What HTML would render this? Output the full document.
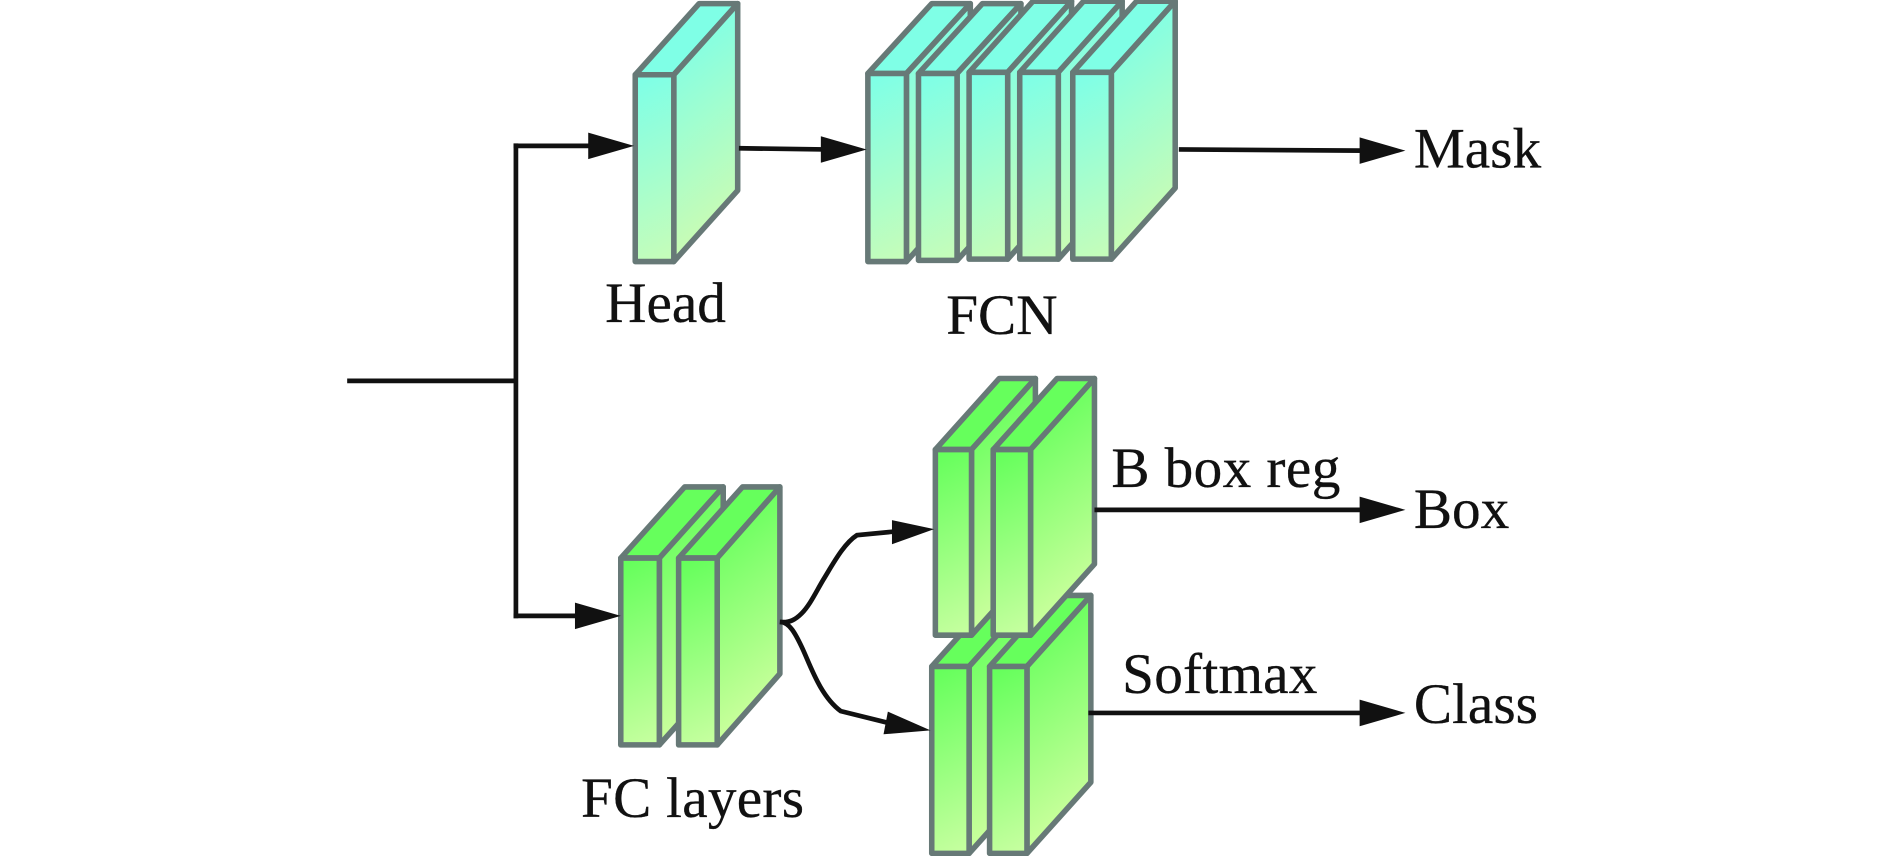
<!DOCTYPE html>
<html><head><meta charset="utf-8"><style>
html,body{margin:0;padding:0;background:#fff;width:1890px;height:856px;overflow:hidden}
svg{display:block}
text{font-family:"Liberation Serif",serif;font-size:47.5px;fill:#111;stroke:#111;stroke-width:.25}
.t polygon,.g polygon{stroke:#677977;stroke-width:4.6;stroke-linejoin:round}
.t .a{fill:#7fffe6}.t .b{fill:url(#tf)}.t .c{fill:url(#ts)}
.g .a{fill:#66ff5c}.g .b{fill:url(#gf)}.g .c{fill:url(#gs)}
.l{fill:none;stroke:#111;stroke-width:3.9}
.h{fill:#111}
</style></head><body>
<svg width="1890" height="856" viewBox="0 0 1568 710.2" xmlns="http://www.w3.org/2000/svg">
<defs>
<linearGradient id="tf" x1="0.45" y1="0" x2="0.55" y2="1"><stop offset="0" stop-color="#7fffe6"/><stop offset="1" stop-color="#c4fdba"/></linearGradient>
<linearGradient id="ts" x1="0.45" y1="0.05" x2="0.6" y2="0.85"><stop offset="0" stop-color="#7fffe6"/><stop offset="1" stop-color="#c6fcb6"/></linearGradient>
<linearGradient id="gf" x1="0.45" y1="0" x2="0.55" y2="1"><stop offset="0" stop-color="#66ff5c"/><stop offset="1" stop-color="#c4ff9e"/></linearGradient>
<linearGradient id="gs" x1="0.45" y1="0.05" x2="0.6" y2="0.85"><stop offset="0" stop-color="#66ff5c"/><stop offset="1" stop-color="#c6ff9a"/></linearGradient>
</defs>

<!-- Head -->
<g class="t">
<polygon class="a" points="527,62 580,3 612,3 559,62"/><polygon class="c" points="559,62 612,3 612,158 559,217"/><polygon class="b" points="527,62 559,62 559,217 527,217"/>
</g>
<!-- FCN -->
<g class="t">
<polygon class="a" points="720,61 773,3 805,3 752,61"/><polygon class="c" points="752,61 805,3 805,158 752,217"/><polygon class="b" points="720,61 752,61 752,217 720,217"/>
<polygon class="a" points="762,61 815,3 847,3 794,61"/><polygon class="c" points="794,61 847,3 847,158 794,216"/><polygon class="b" points="762,61 794,61 794,216 762,216"/>
<polygon class="a" points="804,60 857,1 889,1 836,60"/><polygon class="c" points="836,60 889,1 889,156 836,215"/><polygon class="b" points="804,60 836,60 836,215 804,215"/>
<polygon class="a" points="846,60 899,1 931,1 878,60"/><polygon class="c" points="878,60 931,1 931,156 878,215"/><polygon class="b" points="846,60 878,60 878,215 846,215"/>
<polygon class="a" points="890,60 943,1 975,1 922,60"/><polygon class="c" points="922,60 975,1 975,156 922,215"/><polygon class="b" points="890,60 922,60 922,215 890,215"/>
</g>
<!-- FC layers -->
<g class="g">
<polygon class="a" points="515,463 568,404 600,404 547,463"/><polygon class="c" points="547,463 600,404 600,559 547,618"/><polygon class="b" points="515,463 547,463 547,618 515,618"/>
<polygon class="a" points="563,463 616,404 647,404 595,463"/><polygon class="c" points="595,463 647,404 647,559 595,618"/><polygon class="b" points="563,463 595,463 595,618 563,618"/>
</g>
<!-- Softmax block -->
<g class="g">
<polygon class="a" points="773,553 826,494 857,494 804,553"/><polygon class="c" points="804,553 857,494 857,649 804,708"/><polygon class="b" points="773,553 804,553 804,708 773,708"/>
<polygon class="a" points="821,553 874,494 905,494 852,553"/><polygon class="c" points="852,553 905,494 905,649 852,708"/><polygon class="b" points="821,553 852,553 852,708 821,708"/>
</g>
<!-- B box block -->
<g class="g">
<polygon class="a" points="776,373 829,314 859,314 806,373"/><polygon class="c" points="806,373 859,314 859,468 806,527"/><polygon class="b" points="776,373 806,373 806,527 776,527"/>
<polygon class="a" points="824,373 877,314 908,314 855,373"/><polygon class="c" points="855,373 908,314 908,468 855,527"/><polygon class="b" points="824,373 855,373 855,527 824,527"/>
</g>

<!-- connectors -->
<path class="l" d="M288,316H428M428,119V513M426,121H490M426,511H480"/>
<polygon class="h" points="526,121 488,110 488,132"/>
<polygon class="h" points="515,511 477,500 477,522"/>
<path class="l" d="M613,123L684,124"/>
<polygon class="h" points="719,124 681,113 681,135"/>
<path class="l" d="M978,124L1130,125"/>
<polygon class="h" points="1166,125 1128,114 1128,136"/>
<path class="l" d="M908,423H1130"/>
<polygon class="h" points="1166,423 1128,412 1128,434"/>
<path class="l" d="M903,591.500H1130"/>
<polygon class="h" points="1166,591.500 1128,580.500 1128,602.500"/>
<path class="l" d="M647,516C655,517 660,514 665,509C672,502 677,491 683,481C691,468 700,451 711,444L742,441"/>
<polygon class="h" points="775,439 740,431.500 740,451.500"/>
<path class="l" d="M647,516C655,516 660,526 665,536.500C672,551 680,577 697.500,590L738,600"/>
<polygon class="h" points="772,606 736.600,590.400 733,609.200"/>

<!-- labels -->
<text x="502" y="267">Head</text>
<text x="785" y="277">FCN</text>
<text x="1173" y="139">Mask</text>
<text x="922" y="404" textLength="190">B box reg</text>
<text x="1173" y="438">Box</text>
<text x="931" y="575" textLength="162">Softmax</text>
<text x="1173" y="600">Class</text>
<text x="482" y="678" textLength="185">FC layers</text>
</svg>
</body></html>
